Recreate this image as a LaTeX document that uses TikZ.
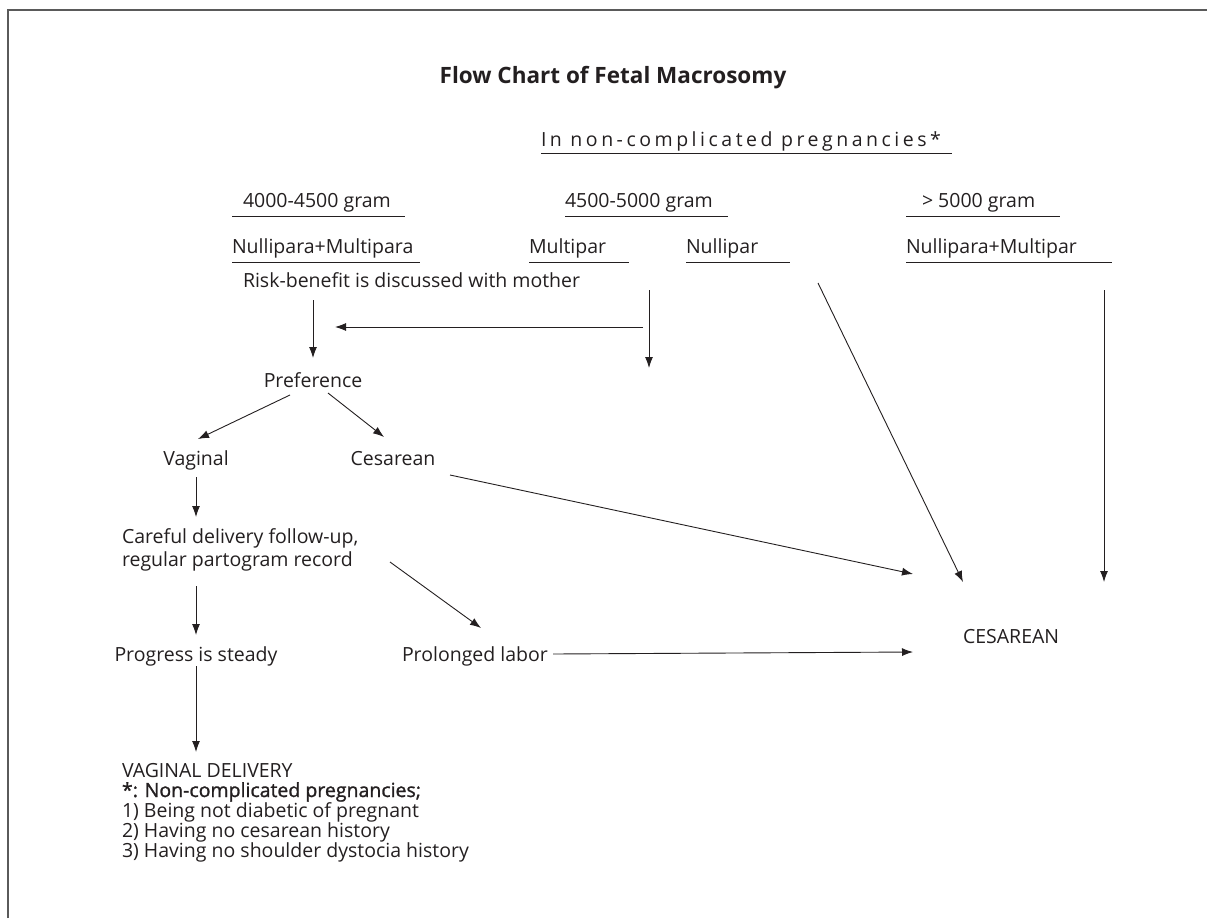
\documentclass[tikz,border=0pt]{standalone}
\usepackage{fontspec}
\setmainfont{Open Sans}
\usetikzlibrary{arrows.meta}
\definecolor{ink}{HTML}{231F20}
\definecolor{framegray}{HTML}{5A5A5A}
\begin{document}
\begin{tikzpicture}[x=1pt,y=-1pt,
  every node/.style={inner sep=0pt,outer sep=0pt,text=ink,font=\fontsize{19.5}{23}\selectfont},
  lbl/.style={anchor=base west},
  uline/.style={draw=ink,line width=0.9pt},
  arr/.style={draw=ink,line width=0.9pt,-{Latex[length=11pt,width=8pt]}}]
\useasboundingbox (0,0) rectangle (1207,918);
% frame (top and left edges)
\draw[framegray,line width=2pt] (8,918) -- (8,10) -- (1207,10);

% title
\node[font=\fontsize{22.5}{26}\selectfont\bfseries,anchor=base] (title) at (613,83) {Flow Chart of Fetal Macrosomy};
\node[lbl,font=\fontsize{19.5}{23}\selectfont\addfontfeature{LetterSpace=18}] (nc) at (541,146) {In non-complicated pregnancies*};
\draw[uline] (541,153) -- (952,153);

% weight classes
\node[lbl] (w1) at (243,207) {4000-4500 gram};
\draw[uline] (232,216) -- (405,216);
\node[lbl] (w2) at (565,207) {4500-5000 gram};
\draw[uline] (565,216) -- (728,216);
\node[lbl] (w3) at (922,207) {> 5000 gram};
\draw[uline] (906,216) -- (1060,216);

% parity
\node[lbl] (p1) at (232,253) {Nullipara+Multipara};
\draw[uline] (232,262) -- (420,262);
\node[lbl] (p2) at (529,253) {Multipar};
\draw[uline] (529,262) -- (629,262);
\node[lbl] (p3) at (686,253) {Nullipar};
\draw[uline] (686,262) -- (790,262);
\node[lbl] (p4) at (906,253) {Nullipara+Multipar};
\draw[uline] (906,262) -- (1112,262);

\node[lbl] (risk) at (243,287) {Risk-benefit is discussed with mother};

\node[anchor=base] (pref) at (313,387) {Preference};
\node[anchor=base] (vag) at (196,465) {Vaginal};
\node[anchor=base] (ces) at (393,465) {Cesarean};
% multi-line nodes: the base anchor sits on the last line
\node[align=left,anchor=base west] (care) at (122,566) {Careful delivery follow-up,\\regular partogram record};
\node[anchor=base] (prog) at (196,661) {Progress is steady};
\node[lbl] (prol) at (402,661) {Prolonged labor};
\node[lbl] (cesar) at (963,643) {CESAREAN};
\node[anchor=base west,align=left,font=\fontsize{19.5}{20}\selectfont] (vd) at (122,857) {VAGINAL DELIVERY\\
  {\addfontfeature{FakeBold=1.2}*: Non-complicated pregnancies;}\\
  1) Being not diabetic of pregnant\\
  2) Having no cesarean history\\
  3) Having no shoulder dystocia history};

% free ends of the connectors
\coordinate (rtop) at (313,300);
\coordinate (rtip) at (313,358);
\coordinate (mtop) at (649,290);
\coordinate (mbot) at (649,368);
\coordinate (mjoin) at (643,327);
\coordinate (ltip) at (335,327);
\coordinate (ntop) at (818,283);
\coordinate (ctipa) at (963,582);
\coordinate (ptop) at (1104,290);
\coordinate (ctipb) at (1104,582);
\coordinate (ctipc) at (913,574);
\coordinate (ctipd) at (913,652);

% connectors
\draw[arr] (rtop) -- (rtip);
\draw[arr] (mtop) -- (mbot);
\draw[arr] (mjoin) -- (ltip);
\draw[arr] (ntop) -- (ctipa);
\draw[arr] (ptop) -- (ctipb);
\draw[arr] (290,395) -- (198,439);
\draw[arr] (328,393) -- (384,437);
\draw[arr] (196,477) -- (196,517);
\draw[arr] (450,475) -- (ctipc);
\draw[arr] (196,586) -- (196,635);
\draw[arr] (390,562) -- (481,628);
\draw[arr] (553,654) -- (ctipd);
\draw[arr] (196,666) -- (196,752);
\end{tikzpicture}
\end{document}
